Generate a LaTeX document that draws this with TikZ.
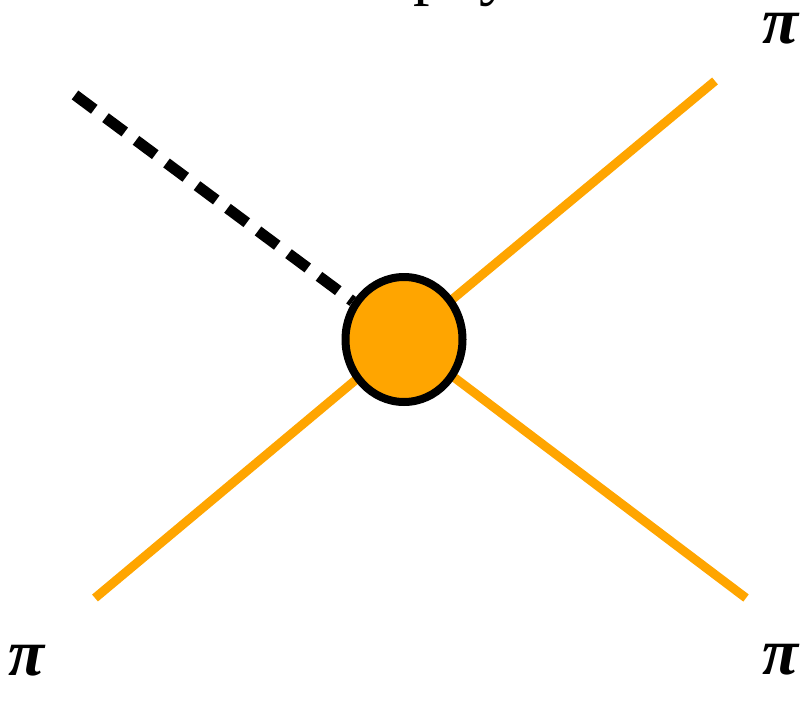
\documentclass[tikz,border=0pt]{standalone}
\usepackage{fontspec}
\setmainfont{Liberation Serif}
\usetikzlibrary{shapes.geometric,backgrounds}
\definecolor{pionorange}{HTML}{FFA500}
\tikzset{
  pion/.style={draw=pionorange,line width=9pt},
  scalar/.style={draw=black,line width=11pt,dash pattern=on 24pt off 14pt},
  blob/.style={ellipse,draw=black,line width=8pt,fill=pionorange,minimum width=117pt,minimum height=125pt,inner sep=0pt},
  lbl/.style={font=\fontsize{66}{66}\selectfont\bfseries\itshape,inner sep=0pt}
}
\begin{document}
\begin{tikzpicture}[x=1pt,y=-1pt]
\useasboundingbox (0,0) rectangle (806,701);
\clip (0,0) rectangle (806,701);
\node[blob] (v) at (404,339.5) {};
\coordinate (s) at (75,95);
\coordinate (a) at (715,81);
\coordinate (b) at (95,598);
\coordinate (c) at (746,598);
\begin{scope}[on background layer]
  \draw[pion] (a) -- (v.center);
  \draw[pion] (b) -- (v.center);
  \draw[pion] (c) -- (v.center);
  \draw[scalar] (s) -- (v);
\end{scope}
\node[anchor=base west,inner sep=0pt,font=\fontsize{66}{66}\selectfont] (t) at (413,-7) {physics};
\node[lbl] (p1) at (781,29) {π};
\node[lbl] (p2) at (27,661) {π};
\node[lbl] (p3) at (781,660) {π};
\end{tikzpicture}
\end{document}
